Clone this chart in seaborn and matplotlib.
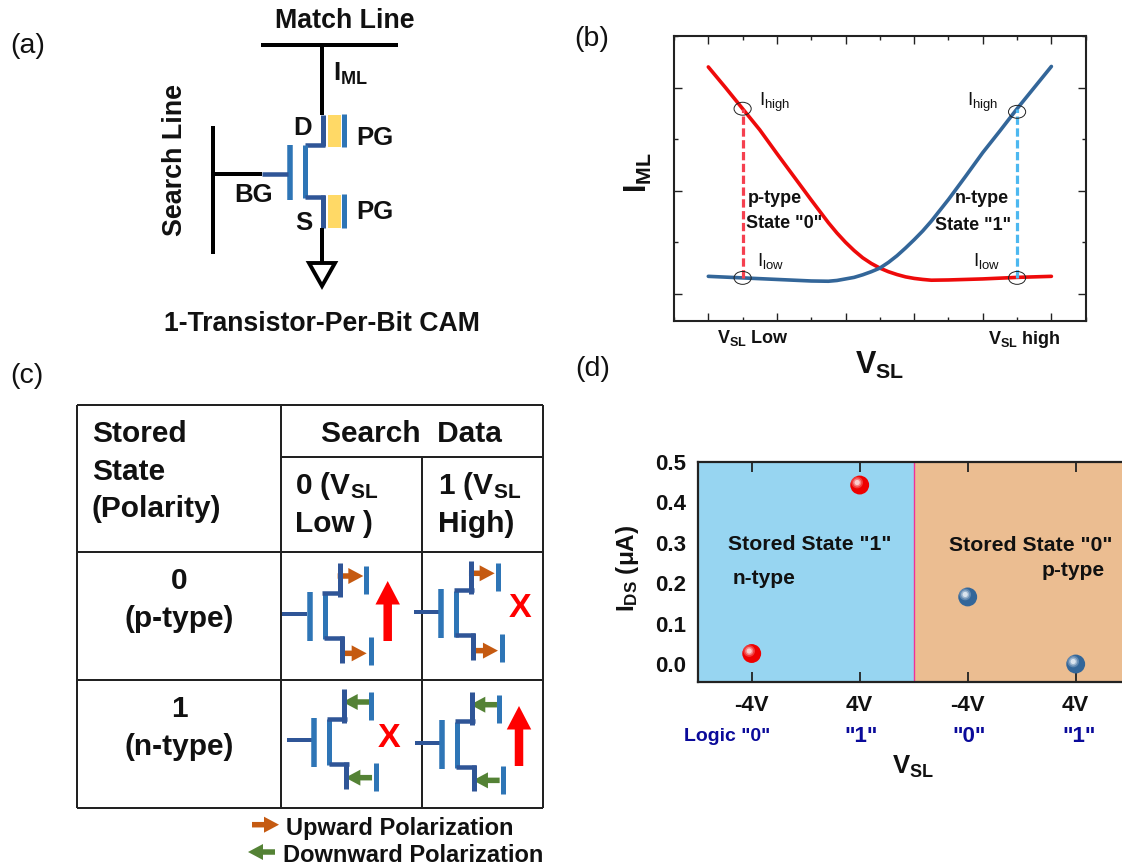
import matplotlib
matplotlib.use("Agg")
import matplotlib.pyplot as plt
import seaborn as sns
from matplotlib.patches import Ellipse, Polygon, Rectangle
from matplotlib.ticker import MultipleLocator
from matplotlib.transforms import Affine2D

# ---- data -------------------------------------------------------------
vsl_red = [0, .5, 1, 1.5, 2, 2.5, 3, 3.5, 3.75, 4, 4.25, 4.5, 4.75, 5, 5.25, 5.5, 5.75, 6, 6.25, 6.5, 7, 8, 9, 10]
iml_red = [4.40, 4.00, 3.59, 3.18, 2.72, 2.27, 1.82, 1.38, 1.18, 1.00, .84, .70, .59, .50, .43, .375, .33, .30, .28,
           .265, .27, .29, .32, .34]
vsl_blue = [0, 1, 2, 3, 3.5, 3.75, 4, 4.25, 4.5, 4.75, 5, 5.25, 5.5, 5.75, 6, 6.25, 6.5, 6.75, 7, 7.5, 8, 8.5, 9, 9.5, 10]
iml_blue = [.34, .31, .28, .25, .245, .26, .29, .32, .37, .43, .50, .61, .74, .89, 1.05, 1.22, 1.41, 1.62, 1.83, 2.28,
            2.74, 3.16, 3.59, 4.00, 4.41]
read_x = [1, 9]
read_low = [.31, .31]
read_high = [3.59, 3.59]

d_positions = [0, 1, 2, 3]
d_labels = ["-4V", "4V", "-4V", "4V"]
d_logic = ['Logic "0"', '"1"', '"0"', '"1"']
ids_red = [0.026, 0.443]
ids_blue = [0.166, 0.0]
d_yticks = [0.0, 0.1, 0.2, 0.3, 0.4, 0.5]

# ---- style ------------------------------------------------------------
sns.set_theme(style="ticks")
FAM = ["Liberation Sans", "DejaVu Sans"]
plt.rcParams.update({
    "font.family": FAM,
    "mathtext.fontset": "custom",
    "mathtext.bf": "Liberation Sans:bold",
    "mathtext.rm": "Liberation Sans",
    "mathtext.it": "Liberation Sans:italic",
    "mathtext.default": "regular",
})
W, H = 1122, 867
fig = plt.figure(figsize=(W / 100, H / 100), dpi=100, facecolor="white")


def px_axes(left, top, right, bottom, **kw):
    return fig.add_axes([left / W, 1 - bottom / H, (right - left) / W, (bottom - top) / H], **kw)


DARK, LIGHT = "#2F5597", "#2E75B6"
ORANGE, GREEN, RED = "#C55A11", "#548235", "#FF0000"

# ---- panel (b) --------------------------------------------------------
axb = px_axes(674, 36, 1085.7, 320.7)
sns.lineplot(x=vsl_red, y=iml_red, color="#EE0A0A", lw=2.6, ax=axb, zorder=3)
sns.lineplot(x=vsl_blue, y=iml_blue, color="#336699", lw=2.6, ax=axb, zorder=4)
axb.vlines(read_x[0], read_low[0], read_high[0], color="#F5404F", lw=2.3, ls=(0, (2.6, 1.1)), zorder=5)
axb.vlines(read_x[1], read_low[1], read_high[1], color="#4DB8F0", lw=2.3, ls=(0, (2.6, 1.1)), zorder=5)
axb.set_xlim(-1, 11)
axb.set_ylim(-0.52, 5)
axb.xaxis.set_major_locator(MultipleLocator(2))
axb.xaxis.set_minor_locator(MultipleLocator(1))
axb.yaxis.set_major_locator(MultipleLocator(2))
axb.yaxis.set_minor_locator(MultipleLocator(1))
axb.tick_params(which="major", direction="in", top=True, right=True, length=5.5, width=1,
                labelbottom=False, labelleft=False, color="#222222")
axb.tick_params(which="minor", direction="in", top=True, right=True, length=3, width=1, color="#222222")
for s in axb.spines.values():
    s.set_linewidth(1.5)
    s.set_color("#222222")
for xv, yv in [(1, 3.59), (9, 3.53), (1, .31), (9, .31)]:
    axb.add_patch(Ellipse((xv, yv), 0.5, 0.25, fc="none", ec="#222222", lw=0.7, zorder=6))

# ---- panel (d) --------------------------------------------------------
axd = px_axes(697.7, 462, 1129.7, 682)
axd.set_xlim(-0.5, 3.5)
axd.set_ylim(-0.0445, 0.5)
axd.axvspan(-0.5, 1.5, color="#97D5F1", lw=0, zorder=0)
axd.axvspan(1.5, 3.5, color="#EBBD91", lw=0, zorder=0)
axd.axvline(1.5, color="#F0309A", lw=1, zorder=1)


def spheres(xs, ys, base, light):
    sns.scatterplot(x=xs, y=ys, s=185, color=base, edgecolor="none", ax=axd, zorder=4, clip_on=False)
    shift = Affine2D().translate(-2.5, 2.5)
    for size, alpha in [(70, .25), (35, .4), (14, .75)]:
        axd.scatter(xs, ys, s=size, color=light, alpha=alpha, edgecolors="none", zorder=5,
                    transform=axd.transData + shift)


spheres(d_positions[:2], ids_red, "#EE0000", "#FFE8E8")
spheres(d_positions[2:], ids_blue, "#336699", "#F0F5FA")
axd.set_xticks(d_positions, d_labels)
axd.set_yticks(d_yticks, [f"{v:.1f}" for v in d_yticks])
axd.tick_params(axis="x", direction="in", top=True, length=7, width=1.3, pad=9.5, color="#222222",
                labelsize=16, labelcolor="#111111")
axd.tick_params(axis="y", length=0, pad=8, labelsize=16, labelcolor="#111111")
for lab in axd.get_xticklabels() + axd.get_yticklabels():
    lab.set_fontweight("bold")
for s in axd.spines.values():
    s.set_linewidth(1.6)
    s.set_color("#222222")

# ---- overlay in pixel coordinates --------------------------------------
ov = fig.add_axes([0, 0, 1, 1], zorder=10)
ov.set_xlim(0, W)
ov.set_ylim(H, 0)
ov.axis("off")
ov.patch.set_alpha(0)


def seg(x0, y0, x1, y1, color="black", wpx=4):
    ov.plot([x0, x1], [y0, y1], color=color, lw=wpx * 0.72, solid_capstyle="butt", solid_joinstyle="miter")


def txt(x, y, s, size=16, bold=True, ha="center", color="#111111", rot=0):
    if rot == 0 and not s.startswith("$"):
        y = y + size * 0.1
    ov.text(x, y, s, fontsize=size, fontweight="bold" if bold else "normal", ha=ha, va="center",
            color=color, rotation=rot)


# panel letters
txt(28, 44, "(a)", 20.5, False)
txt(592, 37, "(b)", 20.5, False)
txt(27, 374, "(c)", 20.5, False)
txt(593, 367, "(d)", 20.5, False)

# panel (a)
seg(261, 44.5, 398, 44.5)
seg(322.5, 44, 322.5, 115)
seg(323, 115, 323, 146, DARK, 5)
seg(305, 144.5, 325.5, 144.5, DARK, 4.5)
seg(305, 145, 305, 198, LIGHT, 5)
seg(305, 196.5, 325.5, 196.5, DARK, 4.5)
seg(323, 195, 323, 228, DARK, 5)
seg(322, 228, 322, 263)
ov.add_patch(Polygon([(309, 263), (335, 263), (322, 286)], fc="white", ec="black", lw=2.8, joinstyle="miter"))
seg(290, 145, 290, 200, LIGHT, 5.5)
seg(262, 173.5, 288, 173.5, DARK, 4.5)
seg(213, 174, 262, 174)
seg(213, 126, 213, 254)
for top, bot in [(115, 147), (195, 228)]:
    ov.add_patch(Rectangle((328, top), 13, bot - top, fc="#FFD966", ec="none"))
    seg(344, top - 1, 344, bot, LIGHT, 5)
txt(345, 19, "Match Line", 19.3)
txt(333, 74, r"$\mathbf{I_{ML}}$", 18.5, ha="left")
txt(303, 126, "D", 18.5)
txt(375, 136, "PG", 18.5)
txt(375, 210, "PG", 18.5)
txt(254, 193, "BG", 18.5)
txt(304, 221, "S", 18.5)
txt(175, 160, "Search Line", 19.4, rot=90)
txt(322, 322, "1-Transistor-Per-Bit CAM", 19.2)

# panel (b) texts
txt(638, 173, r"$\mathbf{I_{ML}}$", 22, rot=90)
txt(880, 365, r"$\mathbf{V_{SL}}$", 22)
txt(717, 338, r"$\mathbf{V_{SL}}$ Low", 13, ha="left")
txt(988, 339, r"$\mathbf{V_{SL}}$ high", 13, ha="left")
txt(759, 102, r"$I_{high}$", 13.5, False, "left")
txt(967, 102, r"$I_{high}$", 13.5, False, "left")
txt(757, 261, r"$I_{low}$", 13.5, False, "left")
txt(973, 261, r"$I_{low}$", 13.5, False, "left")
txt(748, 197, "p-type", 13, ha="left")
txt(746, 222, 'State "0"', 13, ha="left")
txt(955, 197, "n-type", 13, ha="left")
txt(935, 224, 'State "1"', 13, ha="left")

# panel (c) table
for a in [(77.3, 405, 542.7, 405), (77.3, 808, 542.7, 808), (77.3, 405, 77.3, 808), (542.7, 405, 542.7, 808),
          (280.7, 405, 280.7, 808), (422.3, 457.3, 422.3, 808), (280.7, 457.3, 542.7, 457.3),
          (77.3, 552.3, 542.7, 552.3), (77.3, 680.3, 542.7, 680.3)]:
    seg(*a, color="#222222", wpx=2)
txt(92, 432, "Stored", 21.5, ha="left")
txt(92, 470, "State", 21.5, ha="left")
txt(92, 507, "(Polarity)", 21.5, ha="left")
txt(411, 432, "Search  Data", 21.5)
txt(295, 484, r"0 ($\mathbf{V_{SL}}$", 21.5, ha="left")
txt(295, 522, "Low )", 21.5, ha="left")
txt(438, 484, r"1 ($\mathbf{V_{SL}}$", 21.5, ha="left")
txt(438, 522, "High)", 21.5, ha="left")
txt(179, 579, "0", 21.5)
txt(179, 617, "(p-type)", 21.5)
txt(179, 707, "1", 21.5)
txt(179, 745, "(n-type)", 21.5)


def small_arrow(x0, x1, y, color):
    ov.arrow(x0, y, x1 - x0, 0, width=5.5, head_width=16, head_length=15, length_includes_head=True,
             fc=color, ec="none")


def big_arrow(x, y0, y1):
    ov.arrow(x, y0, 0, y1 - y0, width=8.5, head_width=24.5, head_length=23.5, length_includes_head=True,
             fc=RED, ec="none")


def device(dx, dy, color, arrow_right):
    """Transistor icon in table cell; base geometry from the first cell."""
    X = lambda z: z / 3 + 70 + dx
    Y = lambda z: z / 3 + 400 + dy
    seg(X(637), Y(643), X(712), Y(643), DARK, 4)
    seg(X(719), Y(575), X(719), Y(722), LIGHT, 5.5)
    seg(X(764), Y(580), X(764), Y(718), LIGHT, 5)
    seg(X(757), Y(578), X(817), Y(578), DARK, 4.5)
    seg(X(809), Y(490), X(809), Y(590), DARK, 5)
    seg(X(762), Y(714), X(822), Y(714), DARK, 4.5)
    seg(X(815), Y(708), X(815), Y(788), DARK, 5)
    seg(X(889), Y(498), X(889), Y(582), LIGHT, 5)
    seg(X(903), Y(711), X(903), Y(795), LIGHT, 5)
    if arrow_right:
        small_arrow(X(803), X(880), Y(528), color)
        small_arrow(X(810), X(890), Y(760), color)
    else:
        small_arrow(X(884), X(804), Y(528), color)
        small_arrow(X(892), X(812), Y(755), color)


device(0, 0, ORANGE, True)
device(131.3, -2.7, ORANGE, True)
device(4.7, 126, GREEN, False)
device(132.3, 128.7, GREEN, False)
big_arrow(387.7, 641, 581)
big_arrow(519, 766, 706)
txt(520.5, 606, "X", 24.5, color=RED)
txt(389.5, 736, "X", 24.5, color=RED)
small_arrow(252, 279, 824.7, ORANGE)
small_arrow(275, 248, 852, GREEN)
txt(286, 827, "Upward Polarization", 17, ha="left")
txt(283, 854, "Downward Polarization", 17, ha="left")

# panel (d) texts
for xp, lab, size in zip([726.7, 861, 969, 1078.7], d_logic, [14, 16, 16, 16]):
    txt(xp, 735, lab, size, color="#0A0A9A")
txt(913, 767, r"$\mathbf{V_{SL}}$", 18.5)
txt(628, 568, r"$\mathbf{I_{DS}}$ ($\mu$A)", 17.5, rot=90)
txt(728, 543, 'Stored State "1"', 15.3, ha="left")
txt(733, 577, "n-type", 15, ha="left")
txt(949, 544, 'Stored State "0"', 15.3, ha="left")
txt(1042, 569, "p-type", 15, ha="left")

fig.savefig("out.png", dpi=100)
